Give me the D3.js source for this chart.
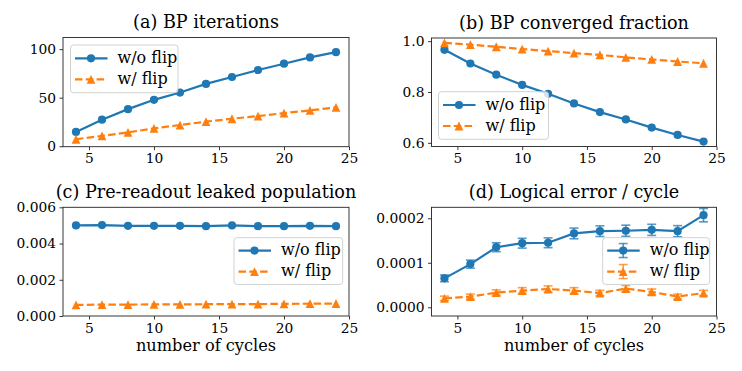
<!DOCTYPE html>
<html>
<head>
<meta charset="utf-8">
<script src="https://cdn.jsdelivr.net/npm/d3@7"></script>
<style>
  html, body { margin: 0; padding: 0; background: #fff; }
</style>
</head>
<body>
<svg id="chart" width="742" height="371"></svg>
<script>
// data
const cycles = [4, 6, 8, 10, 12, 14, 16, 18, 20, 22, 24];
const xTicks = [5, 10, 15, 20, 25];

const bpIterNoFlip = [14.7, 27.3, 38.2, 47.8, 55.3, 64.2, 71.3, 78.5, 85.0, 91.5, 96.9];
const bpIterFlip = [7.2, 10.6, 14.3, 18.4, 21.8, 25.3, 28.3, 31.0, 34.1, 36.9, 40.0];

const convNoFlip = [0.966, 0.912, 0.868, 0.828, 0.793, 0.755, 0.721, 0.692, 0.660, 0.631, 0.605];
const convFlip = [0.993, 0.986, 0.978, 0.969, 0.961, 0.953, 0.946, 0.936, 0.928, 0.920, 0.913];

const leakNoFlip = [0.00500, 0.00502, 0.00498, 0.00498, 0.00498, 0.00496, 0.00500, 0.00496, 0.00496, 0.00498, 0.00496];
const leakFlip = [0.00061, 0.00063, 0.00063, 0.00064, 0.00064, 0.00065, 0.00066, 0.00066, 0.00067, 0.00068, 0.00069];

const errNoFlip = [6.5e-5, 9.7e-5, 1.35e-4, 1.44e-4, 1.45e-4, 1.66e-4, 1.71e-4, 1.72e-4, 1.74e-4, 1.71e-4, 2.07e-4];
const errNoFlipSd = [0.75e-5, 0.9e-5, 1.0e-5, 1.1e-5, 1.1e-5, 1.2e-5, 1.2e-5, 1.25e-5, 1.25e-5, 1.25e-5, 1.5e-5];
const errFlip = [2.0e-5, 2.4e-5, 3.3e-5, 3.75e-5, 4.1e-5, 3.75e-5, 3.2e-5, 4.2e-5, 3.45e-5, 2.4e-5, 3.2e-5];
const errFlipSd = [0.5e-5, 0.55e-5, 0.6e-5, 0.65e-5, 0.7e-5, 0.65e-5, 0.6e-5, 0.7e-5, 0.65e-5, 0.55e-5, 0.6e-5];

const seriesNames = ['w/o flip', 'w/ flip'];

const blue = '#1f77b4';
const orange = '#ff7f0e';
const font = '"DejaVu Serif"';

const panels = [
    {
        title: '(a) BP iterations',
        box: [63, 37.5, 349, 146.7],
        yDomain: [-0.5, 112],
        yTicks: [0, 50, 100],
        yFmt: d3.format('d'),
        a: bpIterNoFlip, b: bpIterFlip,
        legend: [70.5, 45, 107.5, 47.7],
    },
    {
        title: '(b) BP converged fraction',
        box: [431.5, 38, 716.5, 146.5],
        yDomain: null,
        yTicks: [0.6, 0.8, 1.0],
        yFmt: d3.format('.1f'),
        a: convNoFlip, b: convFlip,
        legend: [438.5, 91.7, 110, 47.6],
    },
    {
        title: '(c) Pre-readout leaked population',
        box: [63, 207.3, 349, 316],
        yDomain: [0, 0.006],
        yTicks: [0, 0.002, 0.004, 0.006],
        yFmt: d3.format('.3f'),
        a: leakNoFlip, b: leakFlip,
        legend: [234, 237.7, 108.7, 46.7],
        xLabel: 'number of cycles',
    },
    {
        title: '(d) Logical error / cycle',
        box: [431.5, 207.3, 716.5, 316],
        yDomain: [-0.0000196, 0.0002247],
        yTicks: [0, 0.0001, 0.0002],
        yFmt: d3.format('.4f'),
        a: errNoFlip, b: errFlip,
        aErr: errNoFlipSd, bErr: errFlipSd,
        legend: [602.7, 237.7, 107, 46.7],
        xLabel: 'number of cycles',
    },
];

const svg = d3.select('#chart');

const circle = (g, x, y, c) =>
    g.append('circle').attr('cx', x).attr('cy', y).attr('r', 4.1).attr('fill', c);

const triangle = (g, x, y, c) =>
    g.append('path')
        .attr('d', `M${x},${y - 4.4}L${x + 4.4},${y + 4.4}L${x - 4.4},${y + 4.4}Z`)
        .attr('fill', c);

const errBar = (g, x, y0, y1, c) => {
    g.append('line').attr('x1', x).attr('x2', x).attr('y1', y0).attr('y2', y1)
        .attr('stroke', c).attr('stroke-width', 1.6).attr('stroke-opacity', 0.75);
    [y0, y1].forEach(yy => {
        g.append('line').attr('x1', x - 4.5).attr('x2', x + 4.5).attr('y1', yy).attr('y2', yy)
            .attr('stroke', c).attr('stroke-width', 1.6).attr('stroke-opacity', 0.75);
    });
};

panels.forEach(p => {
    const [x0, y0, x1, y1] = p.box;
    const g = svg.append('g');

    const x = d3.scaleLinear().domain([3, 25]).range([x0, x1]);

    let yDom = p.yDomain;
    if (!yDom) {
        const ext = d3.extent(p.a.concat(p.b));
        const m = (ext[1] - ext[0]) * 0.05;
        yDom = [ext[0] - m, ext[1] + m];
    }
    const y = d3.scaleLinear().domain(yDom).range([y1, y0]);

    // axes
    g.append('g')
        .attr('transform', `translate(0,${y1})`)
        .call(d3.axisBottom(x).tickValues(xTicks).tickSize(3.5).tickPadding(3.4))
        .call(a => a.select('.domain').remove());
    g.append('g')
        .attr('transform', `translate(${x0},0)`)
        .call(d3.axisLeft(y).tickValues(p.yTicks).tickFormat(p.yFmt).tickSize(3.5).tickPadding(3.5))
        .call(a => a.select('.domain').remove());
    g.selectAll('g').attr('font-family', null).attr('font-size', null);
    g.selectAll('.tick text')
        .attr('font-family', font).attr('font-size', 13.8).attr('fill', '#000');
    g.selectAll('.tick line').attr('stroke', '#222').attr('stroke-width', 0.9);

    // data
    const line = d3.line().x((d, i) => x(cycles[i])).y(d => y(d));

    if (p.aErr) {
        p.a.forEach((v, i) => errBar(g, x(cycles[i]), y(v - p.aErr[i]), y(v + p.aErr[i]), blue));
        p.b.forEach((v, i) => errBar(g, x(cycles[i]), y(v - p.bErr[i]), y(v + p.bErr[i]), orange));
    }

    g.append('path').datum(p.a).attr('d', line)
        .attr('fill', 'none').attr('stroke', blue).attr('stroke-width', 2.2);
    p.a.forEach((v, i) => circle(g, x(cycles[i]), y(v), blue));

    g.append('path').datum(p.b).attr('d', line)
        .attr('fill', 'none').attr('stroke', orange).attr('stroke-width', 2.2)
        .attr('stroke-dasharray', '7.5,3.3');
    p.b.forEach((v, i) => triangle(g, x(cycles[i]), y(v), orange));

    // frame
    g.append('rect')
        .attr('x', x0).attr('y', y0).attr('width', x1 - x0).attr('height', y1 - y0)
        .attr('fill', 'none').attr('stroke', '#222').attr('stroke-width', 0.9);

    // title
    g.append('text')
        .attr('x', (x0 + x1) / 2).attr('y', y0 - 9.3)
        .attr('text-anchor', 'middle').attr('font-family', font).attr('font-size', 17.6)
        .text(p.title);

    if (p.xLabel) {
        g.append('text')
            .attr('x', (x0 + x1) / 2).attr('y', y1 + 35)
            .attr('text-anchor', 'middle').attr('font-family', font).attr('font-size', 16.2)
            .text(p.xLabel);
    }

    // legend
    const [lx, ly, lw, lh] = p.legend;
    const lg = g.append('g');
    lg.append('rect')
        .attr('x', lx).attr('y', ly).attr('width', lw).attr('height', lh)
        .attr('rx', 3).attr('fill', '#fff').attr('fill-opacity', 0.8)
        .attr('stroke', '#ccc').attr('stroke-width', 0.9);
    const rows = [ly + lh / 2 - 10.5, ly + lh / 2 + 10.5];
    [blue, orange].forEach((c, k) => {
        const ry = rows[k];
        lg.append('line')
            .attr('x1', lx + 4.5).attr('x2', lx + 37).attr('y1', ry).attr('y2', ry)
            .attr('stroke', c).attr('stroke-width', 2.2)
            .attr('stroke-dasharray', k === 1 ? '7.5,3.3' : null);
        if (p.aErr) errBar(lg, lx + 20.5, ry - 7, ry + 7, c);
        if (k === 0) circle(lg, lx + 20.5, ry, c);
        else triangle(lg, lx + 20.5, ry, c);
        lg.append('text')
            .attr('x', lx + 47).attr('y', ry + 4.5)
            .attr('font-family', font).attr('font-size', 16)
            .text(seriesNames[k]);
    });
});
</script>
</body>
</html>
